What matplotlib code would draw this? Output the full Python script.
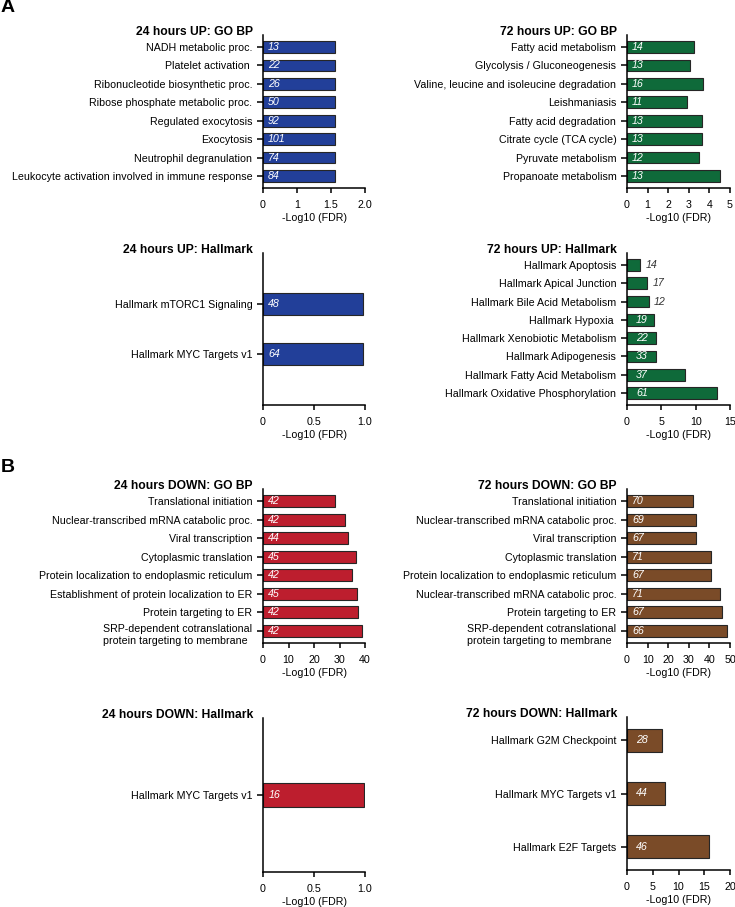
import numpy as np
import matplotlib
matplotlib.use('Agg')
import matplotlib.pyplot as plt

plt.rcParams['font.family'] = ['Liberation Sans', 'DejaVu Sans']
plt.rcParams['font.size'] = 7.7

# --- data (top to bottom in each panel) ---
up24_go_terms = ['NADH metabolic proc.', 'Platelet activation ', 'Ribonucleotide biosynthetic proc.',
                 'Ribose phosphate metabolic proc.', 'Regulated exocytosis', 'Exocytosis',
                 'Neutrophil degranulation', 'Leukocyte activation involved in immune response']
up24_go_vals = [1.41, 1.41, 1.41, 1.41, 1.41, 1.41, 1.41, 1.41]
up24_go_counts = [13, 22, 26, 50, 92, 101, 74, 84]

up72_go_terms = ['Fatty acid metabolism', 'Glycolysis / Gluconeogenesis',
                 'Valine, leucine and isoleucine degradation', 'Leishmaniasis',
                 'Fatty acid degradation', 'Citrate cycle (TCA cycle)', 'Pyruvate metabolism',
                 'Propanoate metabolism']
up72_go_vals = [3.26, 3.08, 3.67, 2.92, 3.65, 3.65, 3.51, 4.51]
up72_go_counts = [14, 13, 16, 11, 13, 13, 12, 13]

up24_hm_terms = ['Hallmark mTORC1 Signaling', 'Hallmark MYC Targets v1']
up24_hm_vals = [0.98, 0.98]
up24_hm_counts = [48, 64]

up72_hm_terms = ['Hallmark Apoptosis', 'Hallmark Apical Junction', 'Hallmark Bile Acid Metabolism',
                 'Hallmark Hypoxia ', 'Hallmark Xenobiotic Metabolism', 'Hallmark Adipogenesis',
                 'Hallmark Fatty Acid Metabolism', 'Hallmark Oxidative Phosphorylation']
up72_hm_vals = [1.95, 2.98, 3.2, 3.9, 4.24, 4.24, 8.49, 13.07]
up72_hm_counts = [14, 17, 12, 19, 22, 33, 37, 61]

down24_go_terms = ['Translational initiation', 'Nuclear-transcribed mRNA catabolic proc.',
                   'Viral transcription', 'Cytoplasmic translation',
                   'Protein localization to endoplasmic reticulum',
                   'Establishment of protein localization to ER', 'Protein targeting to ER',
                   'SRP-dependent cotranslational\nprotein targeting to membrane']
down24_go_vals = [28.3, 32.2, 33.5, 36.3, 34.8, 36.7, 37.1, 38.9]
down24_go_counts = [42, 42, 44, 45, 42, 45, 42, 42]

down72_go_terms = ['Translational initiation', 'Nuclear-transcribed mRNA catabolic proc.',
                   'Viral transcription', 'Cytoplasmic translation',
                   'Protein localization to endoplasmic reticulum',
                   'Nuclear-transcribed mRNA catabolic proc.', 'Protein targeting to ER',
                   'SRP-dependent cotranslational\nprotein targeting to membrane']
down72_go_vals = [32.1, 33.3, 33.3, 40.7, 40.9, 45.3, 46.3, 48.7]
down72_go_counts = [70, 69, 67, 71, 67, 71, 67, 66]

down24_hm_terms = ['Hallmark MYC Targets v1']
down24_hm_vals = [0.99]
down24_hm_counts = [16]

down72_hm_terms = ['Hallmark G2M Checkpoint', 'Hallmark MYC Targets v1', 'Hallmark E2F Targets']
down72_hm_vals = [6.75, 7.34, 15.97]
down72_hm_counts = [28, 44, 46]

blue = '#223F99'
green = '#0F6A3A'
red = '#BD1E2E'
brown = '#7A4B28'

W, H = 735, 907
fig = plt.figure(figsize=(W / 100, H / 100), dpi=100)


def px_axes(x, y, w, h):
    return fig.add_axes([x / W, 1 - (y + h) / H, w / W, h / H])


def bar_panel(ax, title, terms, vals, counts, color, xmax, ticks, ticklabels,
              ylim, bar_h, n_outside=0, lab_pad=5):
    pos = np.arange(len(terms))
    ax.barh(pos, vals, height=bar_h, color=color, edgecolor='#262626', linewidth=0.8, zorder=2)
    ax.set_xlim(0, xmax)
    ax.set_ylim(ylim)
    ax.set_xticks(ticks)
    ax.set_xticklabels(ticklabels)
    ax.set_yticks(pos)
    labels = []
    for t in terms:
        labels.append('' if '\n' in t else t)
    ax.set_yticklabels(labels)
    for p, t in zip(pos, terms):
        if '\n' in t:
            ax.annotate(t, xy=(0, p), xycoords=('axes fraction', 'data'), xytext=(-11, 6.5),
                        textcoords='offset pixels', ha='right', va='top', multialignment='left')
    for i, (p, v, c) in enumerate(zip(pos, vals, counts)):
        if i < n_outside:
            ax.annotate(str(c), xy=(v, p), xytext=(5, 0), textcoords='offset pixels',
                        ha='left', va='center', color='#333333', style='italic')
        else:
            ax.annotate(str(c), xy=(0, p), xytext=(lab_pad, 0), textcoords='offset pixels',
                        ha='left', va='center', color='white', style='italic')
    ax.annotate(title, xy=(0, 1), xycoords='axes fraction', xytext=(-10, 3),
                textcoords='offset pixels', ha='right', va='center',
                fontsize=8.7, fontweight='bold')
    ax.set_xlabel('-Log10 (FDR)', labelpad=2.5)
    for s in ['top', 'right']:
        ax.spines[s].set_visible(False)
    for s in ['left', 'bottom']:
        ax.spines[s].set_linewidth(1.1)
    ax.tick_params(axis='y', length=4.3, width=1.1, pad=3.4)
    ax.tick_params(axis='x', length=3.6, width=1.1, pad=4.8)


ylim8 = (7.65, -0.65)

ax = px_axes(263, 35, 102, 153)
bar_panel(ax, '24 hours UP: GO BP', up24_go_terms, up24_go_vals, up24_go_counts, blue,
          2.0, [0, 2 / 3, 4 / 3, 2.0], ['0', '1', '1.5', '2.0'], ylim8, 0.64)

ax = px_axes(627, 35, 103, 153)
bar_panel(ax, '72 hours UP: GO BP', up72_go_terms, up72_go_vals, up72_go_counts, green,
          5, range(6), [str(i) for i in range(6)], ylim8, 0.64)

ax = px_axes(263, 253, 102, 152)
bar_panel(ax, '24 hours UP: Hallmark', up24_hm_terms, up24_hm_vals, up24_hm_counts, blue,
          1.0, [0, 0.5, 1.0], ['0', '0.5', '1.0'], (2, -1), 0.43)

ax = px_axes(627, 253, 103, 152)
bar_panel(ax, '72 hours UP: Hallmark', up72_hm_terms, up72_hm_vals, up72_hm_counts, green,
          15, [0, 5, 10, 15], ['0', '5', '10', '15'], ylim8, 0.64, n_outside=3, lab_pad=9)

ax = px_axes(263, 489, 102, 154)
bar_panel(ax, '24 hours DOWN: GO BP', down24_go_terms, down24_go_vals, down24_go_counts, red,
          40, [0, 10, 20, 30, 40], ['0', '10', '20', '30', '40'], ylim8, 0.64)

ax = px_axes(627, 489, 103, 154)
bar_panel(ax, '72 hours DOWN: GO BP', down72_go_terms, down72_go_vals, down72_go_counts, brown,
          50, [0, 10, 20, 30, 40, 50], ['0', '10', '20', '30', '40', '50'], ylim8, 0.64)

ax = px_axes(263, 718, 102, 154)
bar_panel(ax, '24 hours DOWN: Hallmark', down24_hm_terms, down24_hm_vals, down24_hm_counts, red,
          1.0, [0, 0.5, 1.0], ['0', '0.5', '1.0'], (1, -1), 0.3, lab_pad=6)

ax = px_axes(627, 717, 103, 153)
bar_panel(ax, '72 hours DOWN: Hallmark', down72_hm_terms, down72_hm_vals, down72_hm_counts, brown,
          20, [0, 5, 10, 15, 20], ['0', '5', '10', '15', '20'], (2.43, -0.43), 0.43, lab_pad=9)

fig.text(1 / W, 1 - 8 / H, 'A', fontsize=14, fontweight='bold', va='center', ha='left')
fig.text(1 / W, 1 - 468 / H, 'B', fontsize=14, fontweight='bold', va='center', ha='left')

fig.savefig('out.png', dpi=100)
